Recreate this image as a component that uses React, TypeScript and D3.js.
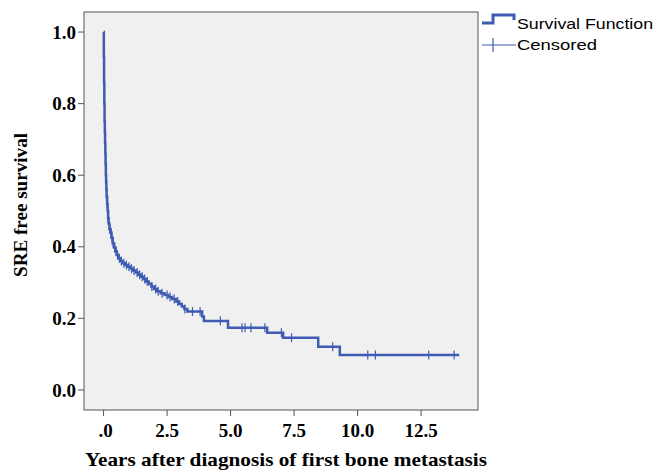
import React from 'react';
import * as d3 from 'd3';

// Kaplan-Meier steps: time (years) and survival after the step
const stepTimes = [0, 0.01, 0.02, 0.03, 0.04, 0.05, 0.06, 0.07, 0.08, 0.09, 0.1, 0.11, 0.12, 0.14, 0.16, 0.18, 0.2, 0.23, 0.27, 0.31, 0.36, 0.41, 0.46, 0.52, 0.58, 0.66, 0.75, 0.85, 0.96, 1.06, 1.16, 1.27, 1.37, 1.48, 1.58, 1.68, 1.78, 1.88, 1.98, 2.1, 2.25, 2.4, 2.55, 2.7, 2.85, 2.98, 3.08, 3.18, 3.3, 3.88, 3.95, 4.9, 6.44, 7.07, 8.45, 9.3];
const stepSurvival = [1.0, 0.93, 0.86, 0.8, 0.75, 0.72, 0.69, 0.66, 0.63, 0.6, 0.58, 0.56, 0.54, 0.52, 0.5, 0.48, 0.465, 0.45, 0.44, 0.425, 0.41, 0.398, 0.387, 0.377, 0.368, 0.36, 0.354, 0.349, 0.344, 0.339, 0.334, 0.328, 0.322, 0.316, 0.31, 0.303, 0.296, 0.289, 0.282, 0.276, 0.27, 0.265, 0.26, 0.254, 0.247, 0.24, 0.233, 0.226, 0.219, 0.205, 0.193, 0.174, 0.16, 0.146, 0.121, 0.098];
const lastTime = 14.0;
const censoredTimes = [0.14, 0.18, 0.25, 0.3, 0.33, 0.38, 0.44, 0.5, 0.55, 0.62, 0.7, 0.8, 0.9, 1.0, 1.1, 1.2, 1.32, 1.42, 1.52, 1.62, 1.72, 1.9, 2.05, 2.15, 2.3, 2.5, 2.62, 2.78, 2.92, 3.2, 3.5, 3.8, 4.6, 5.45, 5.57, 5.8, 6.35, 7.0, 7.4, 9.02, 10.4, 10.7, 12.8, 13.8];

const xTicks = [0, 2.5, 5, 7.5, 10, 12.5];
const xTickLabels = ['.0', '2.5', '5.0', '7.5', '10.0', '12.5'];
const yTicks = [0, 0.2, 0.4, 0.6, 0.8, 1.0];

const legendLabels = ['Survival Function', 'Censored'];
const xTitle = 'Years after diagnosis of first bone metastasis';
const yTitle = 'SRE free survival';

const W = 656;
const H = 472;
const frame = { left: 84, right: 478, top: 12, bottom: 410 };
const blue = '#3f5bb3';
const serif = '"Liberation Serif", "Times New Roman", serif';
const sans = '"Liberation Sans", Arial, sans-serif';

const survivalAt = (t: number) => {
  let s = stepSurvival[0];
  for (let i = 0; i < stepTimes.length; i++) {
    if (stepTimes[i] <= t) s = stepSurvival[i];
  }
  return s;
};

export default function App() {
  const x = d3.scaleLinear().domain([-0.77, 14.74]).range([frame.left, frame.right]);
  const y = d3.scaleLinear().domain([-0.056, 1.056]).range([frame.bottom, frame.top]);

  const pts: [number, number][] = stepTimes.map((t, i) => [t, stepSurvival[i]]);
  pts.push([lastTime, stepSurvival[stepSurvival.length - 1]]);
  const line = d3.line<[number, number]>()
    .x(d => x(d[0]))
    .y(d => y(d[1]))
    .curve(d3.curveStepAfter);

  return (
    <svg width={W} height={H} style={{ position: 'absolute', left: 0, top: 0, background: '#fff' }}>
      <rect x={frame.left} y={frame.top} width={frame.right - frame.left} height={frame.bottom - frame.top}
        fill="#f0f0f0" stroke="#555" strokeWidth={1} />

      {yTicks.map(t => (
        <g key={'y' + t}>
          <line x1={frame.left - 6} x2={frame.left} y1={y(t)} y2={y(t)} stroke="#555" />
          <text x={frame.left - 8} y={y(t)} dy="0.35em" textAnchor="end" fontFamily={serif}
            fontWeight="bold" fontSize={19}>{t.toFixed(1)}</text>
        </g>
      ))}
      {xTicks.map((t, i) => (
        <g key={'x' + t}>
          <line x1={x(t)} x2={x(t)} y1={frame.bottom} y2={frame.bottom + 6} stroke="#555" />
          <text x={x(t) + (i === 0 ? 2 : 0)} y={437} textAnchor="middle" fontFamily={serif}
            fontWeight="bold" fontSize={19}>{xTickLabels[i]}</text>
        </g>
      ))}

      <text x={85} y={466} fontFamily={serif} fontWeight="bold" fontSize={19}
        textLength={402} lengthAdjust="spacingAndGlyphs">{xTitle}</text>
      <text transform={`translate(27,205) rotate(-90)`} textAnchor="middle" fontFamily={serif}
        fontWeight="bold" fontSize={19} textLength={144} lengthAdjust="spacingAndGlyphs">{yTitle}</text>

      <path d={line(pts) || ''} fill="none" stroke={blue} strokeWidth={2.5} />
      {censoredTimes.map((t, i) => (
        <line key={'c' + i} x1={x(t)} x2={x(t)} y1={y(survivalAt(t)) - 4.5} y2={y(survivalAt(t)) + 4.5}
          stroke={blue} strokeWidth={1.2} />
      ))}

      <g>
        <path d="M482,23 H493 V15 H514 V20" fill="none" stroke={blue} strokeWidth={3} />
        <text x={517} y={29} fontFamily={sans} fontSize={14.5} textLength={136}
          lengthAdjust="spacingAndGlyphs">{legendLabels[0]}</text>
        <line x1={482} x2={516} y1={45} y2={45} stroke={blue} strokeWidth={1.2} />
        <line x1={493} x2={493} y1={38} y2={52} stroke={blue} strokeWidth={1.2} />
        <text x={517} y={50} fontFamily={sans} fontSize={14.5} textLength={80}
          lengthAdjust="spacingAndGlyphs">{legendLabels[1]}</text>
      </g>
    </svg>
  );
}
